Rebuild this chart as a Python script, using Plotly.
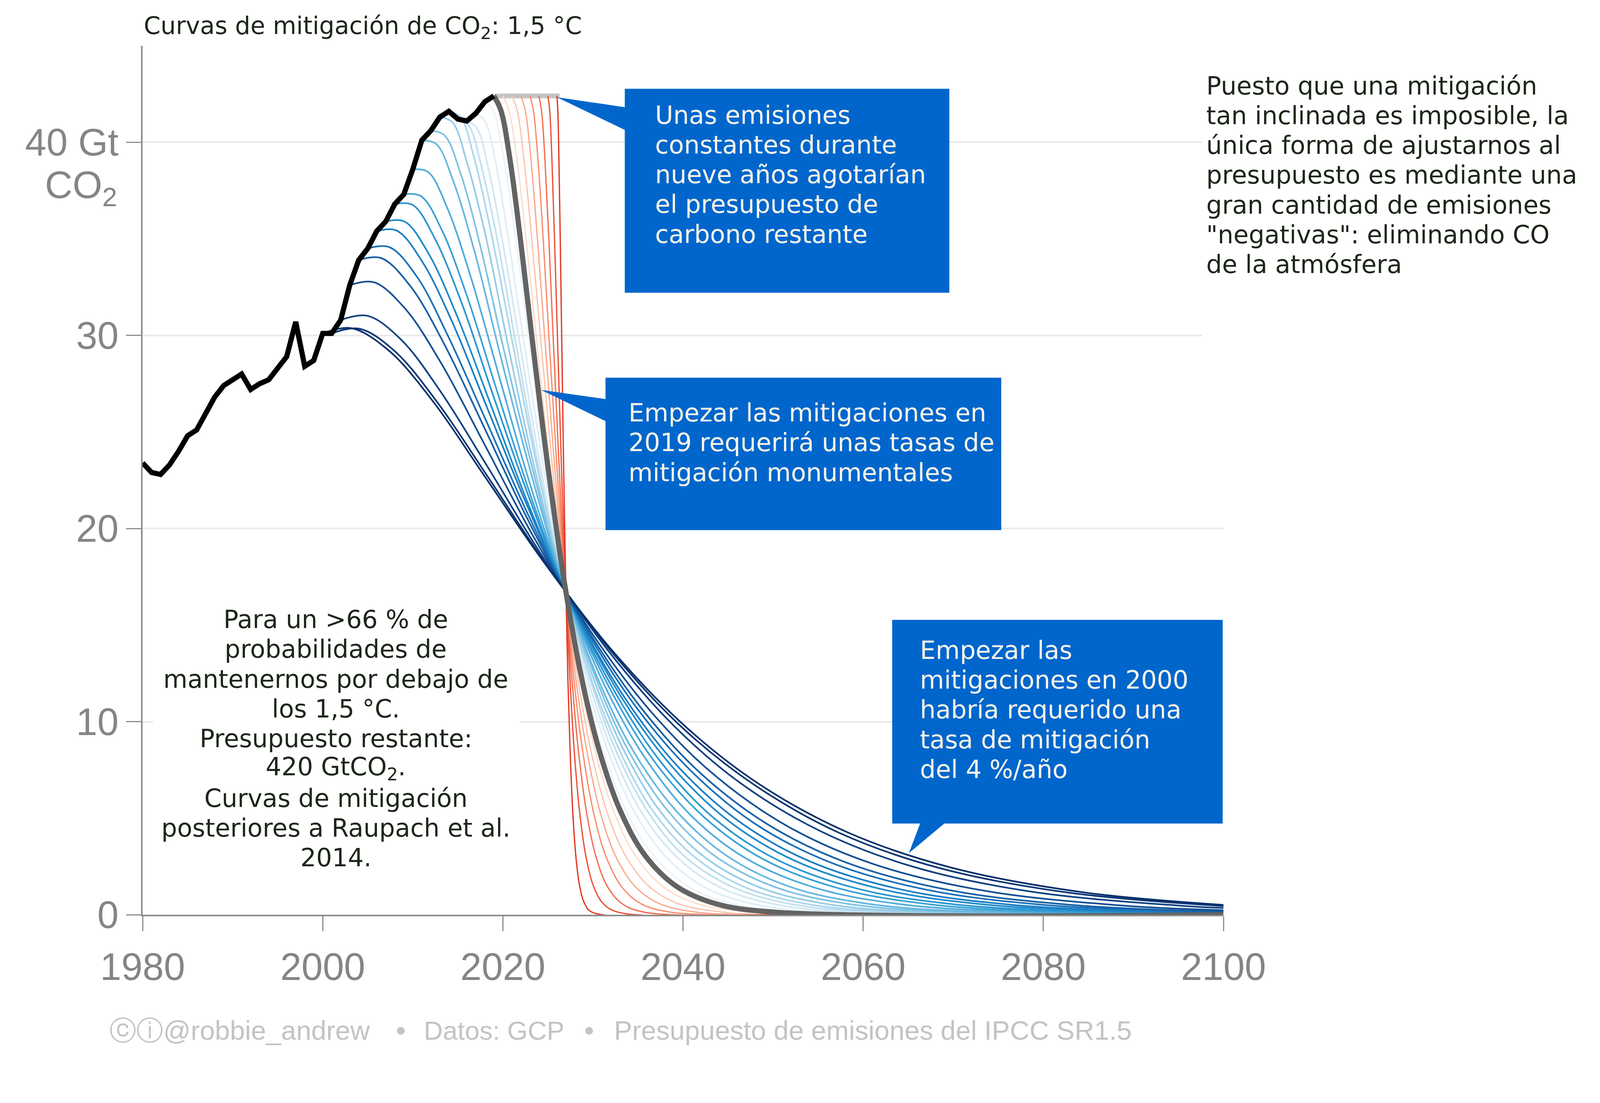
import plotly.graph_objects as go

# ---------------- data ----------------
HIST_YEARS = list(range(1980, 2020))
HIST_EMISSIONS = [23.4, 22.9, 22.8, 23.3, 24.0, 24.8, 25.1, 26.0, 26.8, 27.4,
                  27.7, 28.0, 27.2, 27.5, 27.7, 28.3, 28.9, 30.7, 28.4, 28.7,
                  30.1, 30.1, 30.8, 32.6, 33.9, 34.5, 35.4, 35.9, 36.8, 37.3,
                  38.6, 40.1, 40.6, 41.3, 41.6, 41.2, 41.1, 41.5, 42.1, 42.4]

# mitigation curves starting 2000 ... 2018 (blue)
yrs_2000 = [2000, 2003.2, 2007.3, 2012.2, 2017.8, 2024.3, 2032.4, 2040.5, 2048.6, 2058.3, 2069.7, 2084.3, 2100]
em_2000 = [30.1, 30.37, 29.23, 26.61, 22.83, 18.42, 13.54, 9.65, 6.72, 4.26, 2.45, 1.17, 0.51]
yrs_2001 = [2001, 2004.1, 2008.0, 2012.7, 2018.2, 2024.5, 2032.3, 2040.1, 2048.0, 2057.3, 2068.3, 2082.4, 2100]
em_2001 = [30.1, 30.34, 29.18, 26.55, 22.77, 18.36, 13.49, 9.61, 6.70, 4.25, 2.44, 1.17, 0.45]
yrs_2002 = [2002, 2005.0, 2008.7, 2013.1, 2018.3, 2024.2, 2031.6, 2039.0, 2046.4, 2055.3, 2065.6, 2078.9, 2095.2, 2100]
em_2002 = [30.8, 31.01, 29.78, 27.08, 23.20, 18.70, 13.73, 9.78, 6.81, 4.32, 2.48, 1.18, 0.47, 0.35]
yrs_2003 = [2003, 2005.7, 2009.1, 2013.2, 2017.9, 2023.3, 2030.1, 2036.9, 2043.7, 2051.8, 2061.3, 2073.5, 2088.4, 2100]
em_2003 = [32.6, 32.75, 31.41, 28.52, 24.41, 19.66, 14.43, 10.27, 7.15, 4.53, 2.60, 1.24, 0.49, 0.23]
yrs_2004 = [2004, 2006.5, 2009.7, 2013.5, 2017.9, 2022.9, 2029.2, 2035.5, 2041.8, 2049.4, 2058.2, 2069.5, 2083.4, 2100]
em_2004 = [33.9, 34.00, 32.57, 29.54, 25.26, 20.34, 14.92, 10.62, 7.39, 4.68, 2.69, 1.28, 0.50, 0.16]
yrs_2005 = [2005, 2007.4, 2010.4, 2013.9, 2018.1, 2022.9, 2028.8, 2034.8, 2040.8, 2047.9, 2056.3, 2067.0, 2080.1, 2100]
em_2005 = [34.5, 34.57, 33.08, 29.98, 25.62, 20.62, 15.12, 10.75, 7.49, 4.74, 2.72, 1.30, 0.51, 0.12]
yrs_2006 = [2006, 2008.2, 2011.0, 2014.4, 2018.3, 2022.8, 2028.3, 2033.9, 2039.5, 2046.2, 2054.0, 2064.1, 2076.4, 2095.4, 2100]
em_2006 = [35.4, 35.43, 33.86, 30.67, 26.20, 21.07, 15.44, 10.98, 7.64, 4.84, 2.78, 1.32, 0.52, 0.12, 0.08]
yrs_2007 = [2007, 2009.1, 2011.7, 2014.9, 2018.6, 2022.8, 2028.1, 2033.4, 2038.7, 2045.0, 2052.4, 2061.9, 2073.5, 2091.4, 2100]
em_2007 = [35.9, 35.89, 34.28, 31.02, 26.48, 21.29, 15.60, 11.09, 7.72, 4.88, 2.80, 1.34, 0.53, 0.12, 0.06]
yrs_2008 = [2008, 2010.0, 2012.4, 2015.4, 2018.8, 2022.8, 2027.7, 2032.7, 2037.6, 2043.5, 2050.4, 2059.3, 2070.1, 2086.9, 2100]
em_2008 = [36.8, 36.75, 35.06, 31.71, 27.06, 21.74, 15.92, 11.32, 7.87, 4.98, 2.86, 1.36, 0.54, 0.12, 0.03]
yrs_2009 = [2009, 2010.9, 2013.2, 2016.0, 2019.2, 2022.9, 2027.5, 2032.2, 2036.8, 2042.4, 2048.9, 2057.2, 2067.4, 2083.1, 2100]
em_2009 = [37.3, 37.21, 35.48, 32.06, 27.34, 21.96, 16.08, 11.43, 7.95, 5.03, 2.88, 1.38, 0.54, 0.12, 0.02]
yrs_2010 = [2010, 2011.7, 2013.8, 2016.4, 2019.4, 2022.8, 2027.1, 2031.4, 2035.7, 2040.8, 2046.8, 2054.5, 2063.9, 2078.4, 2100]
em_2010 = [38.6, 38.46, 36.63, 33.08, 28.19, 22.63, 16.56, 11.77, 8.18, 5.18, 2.97, 1.42, 0.56, 0.13, 0.01]
yrs_2011 = [2011, 2012.6, 2014.5, 2016.9, 2019.6, 2022.8, 2026.7, 2030.6, 2034.5, 2039.3, 2044.8, 2051.8, 2060.5, 2073.8, 2100]
em_2011 = [40.1, 39.91, 37.98, 34.27, 29.19, 23.42, 17.13, 12.17, 8.46, 5.35, 3.07, 1.46, 0.57, 0.13, 0.0]
yrs_2012 = [2012, 2013.5, 2015.3, 2017.5, 2020.0, 2023.0, 2026.6, 2030.3, 2033.9, 2038.3, 2043.4, 2050.0, 2058.1, 2070.5, 2100]
em_2012 = [40.6, 40.37, 38.39, 34.62, 29.47, 23.64, 17.28, 12.27, 8.53, 5.39, 3.09, 1.47, 0.58, 0.13, 0.0]
yrs_2013 = [2013, 2014.4, 2016.0, 2018.1, 2020.4, 2023.1, 2026.5, 2029.9, 2033.3, 2037.3, 2042.0, 2048.1, 2055.5, 2067.0, 2100]
em_2013 = [41.3, 41.03, 38.98, 35.13, 29.89, 23.97, 17.52, 12.44, 8.64, 5.46, 3.13, 1.49, 0.59, 0.13, 0.0]
yrs_2014 = [2014, 2015.3, 2016.8, 2018.7, 2020.9, 2023.4, 2026.5, 2029.6, 2032.8, 2036.5, 2040.9, 2046.5, 2053.4, 2064.1, 2100]
em_2014 = [41.6, 41.30, 39.21, 35.31, 30.04, 24.07, 17.59, 12.49, 8.67, 5.48, 3.14, 1.50, 0.59, 0.13, 0.0]
yrs_2015 = [2015, 2016.2, 2017.6, 2019.4, 2021.4, 2023.7, 2026.6, 2029.6, 2032.5, 2036.0, 2040.0, 2045.3, 2051.7, 2061.6, 2100]
em_2015 = [41.2, 40.87, 38.78, 34.91, 29.68, 23.78, 17.37, 12.33, 8.56, 5.41, 3.10, 1.48, 0.58, 0.13, 0.0]
yrs_2016 = [2016, 2017.1, 2018.4, 2020.0, 2021.9, 2024.0, 2026.7, 2029.4, 2032.1, 2035.3, 2039.1, 2043.9, 2049.8, 2058.9, 2100]
em_2016 = [41.1, 40.74, 38.63, 34.76, 29.54, 23.66, 17.28, 12.26, 8.51, 5.38, 3.08, 1.47, 0.58, 0.13, 0.0]
yrs_2017 = [2017, 2018.0, 2019.2, 2020.6, 2022.3, 2024.3, 2026.7, 2029.1, 2031.6, 2034.5, 2037.9, 2042.2, 2047.6, 2055.8, 2100]
em_2017 = [41.5, 41.10, 38.95, 35.02, 29.75, 23.82, 17.39, 12.34, 8.57, 5.41, 3.10, 1.48, 0.58, 0.13, 0.0]
yrs_2018 = [2018, 2018.9, 2020.0, 2021.3, 2022.8, 2024.5, 2026.7, 2028.8, 2031.0, 2033.6, 2036.6, 2040.5, 2045.3, 2052.7, 2100]
em_2018 = [42.1, 41.66, 39.45, 35.45, 30.10, 24.09, 17.58, 12.47, 8.66, 5.47, 3.13, 1.49, 0.59, 0.13, 0.0]

# mitigation starting 2019 (thick grey) and after constant emissions (red)
yrs_2019 = [2019, 2019.78, 2020.76, 2021.93, 2023.30, 2024.87, 2026.83, 2028.78, 2030.74, 2033.09, 2035.82, 2039.34, 2043.65, 2050.30, 2100]
yrs_2020 = [2020, 2020.68, 2021.54, 2022.57, 2023.77, 2025.14, 2026.85, 2028.56, 2030.27, 2032.33, 2034.72, 2037.80, 2041.57, 2047.39, 2050]
yrs_2021 = [2021, 2021.59, 2022.32, 2023.20, 2024.23, 2025.40, 2026.87, 2028.34, 2029.80, 2031.56, 2033.62, 2036.26, 2039.49, 2044.47, 2050]
yrs_2022 = [2022, 2022.49, 2023.10, 2023.83, 2024.69, 2025.67, 2026.89, 2028.11, 2029.34, 2030.80, 2032.51, 2034.71, 2037.40, 2041.56, 2050]
yrs_2023 = [2023, 2023.39, 2023.88, 2024.47, 2025.15, 2025.94, 2026.91, 2027.89, 2028.87, 2030.05, 2031.42, 2033.18, 2035.33, 2038.66, 2050]
yrs_2024 = [2024, 2024.29, 2024.66, 2025.10, 2025.61, 2026.20, 2026.93, 2027.67, 2028.40, 2029.28, 2030.31, 2031.62, 2033.24, 2035.73, 2050]
yrs_2025 = [2025, 2025.20, 2025.44, 2025.73, 2026.08, 2026.47, 2026.96, 2027.45, 2027.93, 2028.52, 2029.21, 2030.09, 2031.16, 2032.82, 2050]
yrs_2026 = [2026, 2026.10, 2026.22, 2026.37, 2026.54, 2026.73, 2026.98, 2027.22, 2027.47, 2027.76, 2028.10, 2028.54, 2029.08, 2029.91, 2050]
LATE_CURVE_EMISSIONS = [42.4, 41.65, 39.20, 35.05, 29.64, 23.65, 17.21, 12.18, 8.44, 5.33, 3.05, 1.45, 0.57, 0.13, 0.0]

CONSTANT_YEARS = [2019, 2026.3]
CONSTANT_EMISSIONS = [42.4, 42.4]

X_TICKS = [1980, 2000, 2020, 2040, 2060, 2080, 2100]
Y_TICKS = [0, 10, 20, 30, 40]
Y_TICK_TEXT = ["0", "10", "20", "30", "40 Gt"]

BLUE_CURVES = [(yrs_2000, em_2000), (yrs_2001, em_2001), (yrs_2002, em_2002), (yrs_2003, em_2003),
               (yrs_2004, em_2004), (yrs_2005, em_2005), (yrs_2006, em_2006), (yrs_2007, em_2007),
               (yrs_2008, em_2008), (yrs_2009, em_2009), (yrs_2010, em_2010), (yrs_2011, em_2011),
               (yrs_2012, em_2012), (yrs_2013, em_2013), (yrs_2014, em_2014), (yrs_2015, em_2015),
               (yrs_2016, em_2016), (yrs_2017, em_2017), (yrs_2018, em_2018)]
RED_CURVES = [yrs_2020, yrs_2021, yrs_2022, yrs_2023, yrs_2024, yrs_2025, yrs_2026]

# ---------------- texts ----------------
TITLE = 'Curvas de mitigación de CO<sub>2</sub>: 1,5 °C'
BOX1_LINES = ['Unas emisiones', 'constantes durante', 'nueve años agotarían',
              'el presupuesto de', 'carbono restante']
BOX2_LINES = ['Empezar las mitigaciones en', '2019 requerirá unas tasas de',
              'mitigación monumentales']
BOX3_LINES = ['Empezar las', 'mitigaciones en 2000', 'habría requerido una',
              'tasa de mitigación', 'del 4 %/año']
LEFT_LINES = ['Para un &gt;66 % de', 'probabilidades de', 'mantenernos por debajo de',
              'los 1,5 °C.', 'Presupuesto restante:', '420 GtCO<sub>2</sub>.',
              'Curvas de mitigación', 'posteriores a Raupach et al.', '2014.']
RIGHT_LINES = ['Puesto que una mitigación', 'tan inclinada es imposible, la',
               'única forma de ajustarnos al', 'presupuesto es mediante una',
               'gran cantidad de emisiones', '"negativas": eliminando CO',
               'de la atmósfera']

# ---------------- styling ----------------
BLUE_COLORS = ['#08306b', '#0a3674', '#0e4282', '#134f93', '#1760a6', '#1a70b8', '#1b7ec3',
               '#208bcb', '#2c97d1', '#3ba2d6', '#50acdb', '#67b7df', '#7fc2e3', '#96cce7',
               '#acd6eb', '#c0dfef', '#d2e8f3', '#e0eff7', '#eaf4fa']
RED_COLORS = ['#fddbcb', '#fcc3ab', '#fca78b', '#fb8a6a', '#f56c4f', '#ec5038', '#e13a24']

# target picture pixels; the page is shown with a device scale of about D and an 8px body margin
W, H = 4302, 2824
L, R, T, B = 384, 1004, 123, 358
D = 1.053
BODY = 8


def s(v):
    return v / D


PW, PH = W - L - R, H - T - B


def px(X):
    return (X - L) / PW


def py(Y):
    return (H - B - Y) / PH


fig = go.Figure()

for (yrs, em), col in list(zip(BLUE_CURVES, BLUE_COLORS))[::-1]:
    fig.add_trace(go.Scatter(x=yrs, y=em, mode='lines', hoverinfo='skip',
                             line=dict(color=col, width=s(4.5), shape='spline', smoothing=1.0)))

fig.add_trace(go.Scatter(x=CONSTANT_YEARS, y=CONSTANT_EMISSIONS, mode='lines', hoverinfo='skip',
                         line=dict(color='#c4c4c4', width=s(13))))

for yrs, col in zip(RED_CURVES, RED_COLORS):
    fig.add_trace(go.Scatter(x=yrs, y=LATE_CURVE_EMISSIONS, mode='lines', hoverinfo='skip',
                             line=dict(color=col, width=s(3.5), shape='spline', smoothing=1.0)))

fig.add_trace(go.Scatter(x=yrs_2019, y=LATE_CURVE_EMISSIONS, mode='lines', hoverinfo='skip',
                         line=dict(color='#636363', width=s(14), shape='spline', smoothing=1.0)))

fig.add_trace(go.Scatter(x=HIST_YEARS, y=HIST_EMISSIONS, mode='lines', hoverinfo='skip',
                         line=dict(color='#000000', width=s(14))))

AX = '#8c8c8c'
TFAM = 'Liberation Sans, Arial, sans-serif'
TICKFONT = dict(family=TFAM, size=s(103), color='#858585')
fig.update_layout(
    width=round(s(W) - BODY), height=round(s(H) - BODY),
    margin=dict(l=s(L) - BODY, r=round(s(W) - BODY) - (s(W - R) - BODY), t=s(T) - BODY,
                b=round(s(H) - BODY) - (s(H - B) - BODY), pad=0),
    paper_bgcolor='white', plot_bgcolor='white', showlegend=False,
    xaxis=dict(range=[1980, 2100], tickvals=X_TICKS, ticks='outside', ticklen=s(40), tickwidth=s(3),
               tickcolor=AX, showgrid=False, showline=True, linecolor=AX, linewidth=s(4),
               zeroline=False, tickfont=TICKFONT, ticklabelstandoff=8),
    yaxis=dict(range=[0, 45], tickvals=Y_TICKS, ticktext=Y_TICK_TEXT, ticks='outside', ticklen=s(40),
               tickwidth=s(3), tickcolor=AX, showgrid=True, gridcolor='#e9e9e9', gridwidth=s(4),
               showline=True, linecolor=AX, linewidth=s(4), zeroline=False, tickfont=TICKFONT),
)

BLUE = '#0066CC'
shapes = []
# white backgrounds behind free text
shapes.append(dict(type='rect', xref='paper', yref='paper', x0=px(412), x1=px(1400), y0=py(2370), y1=py(1620),
                   fillcolor='white', line=dict(width=0), layer='above'))
shapes.append(dict(type='rect', xref='paper', yref='paper', x0=px(3240), x1=px(4302), y0=py(930), y1=py(170),
                   fillcolor='white', line=dict(width=0), layer='above'))
# callout boxes
for (x0, y0, x1, y1) in [(1684, 239, 2559, 789), (1632, 1018, 2699, 1429), (2405, 1671, 3296, 2220)]:
    shapes.append(dict(type='rect', xref='paper', yref='paper', x0=px(x0), x1=px(x1), y0=py(y1), y1=py(y0),
                       fillcolor=BLUE, line=dict(width=0), layer='above'))
for tri in [[(1501, 262), (1686, 289), (1686, 351)],
            [(1458, 1051), (1634, 1076), (1634, 1136)],
            [(2481, 2218), (2548, 2218), (2450, 2300)]]:
    path = 'M ' + ' L '.join(f'{px(a):.5f},{py(b):.5f}' for a, b in tri) + ' Z'
    shapes.append(dict(type='path', xref='paper', yref='paper', path=path,
                       fillcolor=BLUE, line=dict(width=0), layer='above'))
fig.update_layout(shapes=shapes)

TXT = '#1c2619'
CREAM = '#fbf4ea'
FONT = 'DejaVu Sans, Verdana, sans-serif'


def note(text, X, Y, color=TXT, size=67, xanchor='left', family=FONT):
    fig.add_annotation(text=text, xref='paper', yref='paper', x=px(X), y=py(Y), showarrow=False,
                       xanchor=xanchor, yanchor='middle', align='left',
                       font=dict(family=family, size=s(size), color=color))


def block(lines, X, Y0, color=TXT, xanchor='left', step=80.3):
    for i, t in enumerate(lines):
        note(t, X, Y0 + i * step - 5, color=color, xanchor=xanchor)


note(TITLE, 385, 74, size=65)
note('CO<sub>2</sub>', 318, 506, color='#858585', size=103, xanchor='right', family=TFAM)
block(BOX1_LINES, 1764, 315, color=CREAM)
block(BOX2_LINES, 1692, 1118, color=CREAM)
block(BOX3_LINES, 2478, 1758, color=CREAM)
block(LEFT_LINES, 905, 1675, xanchor='center')
block(RIGHT_LINES, 3250, 236)

FOOT = '#c3c3c3'
FY = 2778
note('ⓒⓘ@robbie_andrew', 292, FY, color=FOOT, size=73, family=TFAM)
note('<b>•</b>', 1080, FY, color=FOOT, size=73, xanchor='center', family=TFAM)
note('Datos: GCP', 1140, FY, color=FOOT, size=71, family=TFAM)
note('<b>•</b>', 1588, FY, color=FOOT, size=73, xanchor='center', family=TFAM)
note('Presupuesto de emisiones del IPCC SR1.5', 1653, FY, color=FOOT, size=73, family=TFAM)

fig.write_html('out.html', config={'displayModeBar': False})
